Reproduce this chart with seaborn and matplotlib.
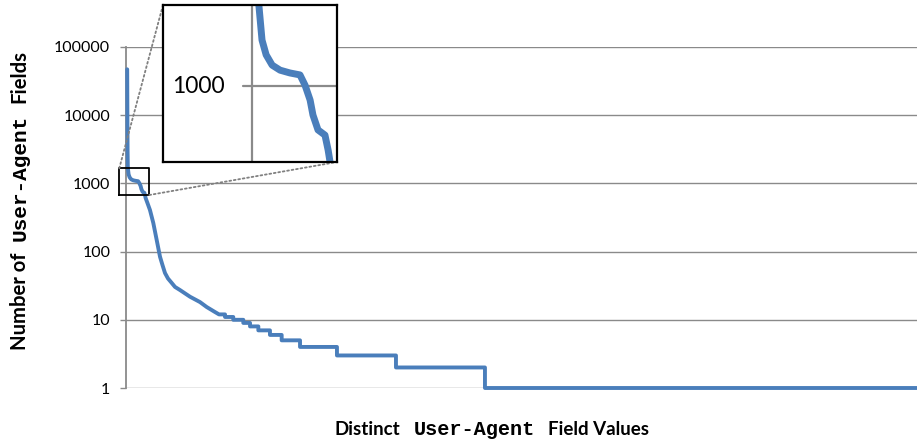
import numpy as np
import pandas as pd
import matplotlib
matplotlib.use("Agg")
import matplotlib.pyplot as plt
import seaborn as sns
from matplotlib.patches import ConnectionPatch
from matplotlib.ticker import NullLocator
from matplotlib.transforms import IdentityTransform

# ---------------- data ----------------
head_rank = [1.5, 1.8, 2.0, 2.3, 3.3, 4.6, 6.5, 9.0, 12.1, 15.3, 16.9, 18.5, 19.4,
             21.0, 23.2, 24.2, 24.8, 27.0, 30.3, 34.5, 38.8, 43.0, 46.1, 49.3, 53.1,
             57.8, 62.0, 68.3, 80.9, 93.5, 102.0, 112.5]
head_count = [47100, 8000, 3000, 1700, 1352, 1228, 1148, 1111, 1091, 1077, 1007, 914, 829,
              752, 727, 659, 610, 520, 407, 263, 148, 84, 63.6, 48.5, 40.3,
              34.7, 30.3, 27.3, 21.8, 18.2, 15.4, 13.0]
step_count = [12, 11, 10, 9, 8, 7, 6, 5, 4, 3, 2, 1]
step_start = [117.6, 125.2, 135.6, 148.3, 156.8, 167.3, 182.0, 196.8, 220.0, 266.7, 341.3, 453.8]
rank_max = 1000
y_ticks = [1, 10, 100, 1000, 10000, 100000]
y_tick_labels = ["1", "10", "100", "1000", "10000", "100000"]
inset_label = "1000"

# ------------- build table -------------
xs = list(head_rank)
ys = list(head_count)
ends = step_start[1:] + [rank_max]
for c, s, e in zip(step_count, step_start, ends):
    xs += [s, e]
    ys += [c, c]
df = pd.DataFrame({"rank": xs, "count": ys})

sns.set_theme(style="white")
plt.rcParams["font.family"] = ["Lato", "DejaVu Sans"]

W, H = 917, 440
fig = plt.figure(figsize=(W / 100, H / 100), dpi=100)
blue = "#4a7ebb"
gray = "#8a8a8a"

ax = fig.add_axes([126 / W, 52 / H, 791 / W, 341 / H])
sns.lineplot(data=df, x="rank", y="count", sort=False, estimator=None, ax=ax,
             color=blue, lw=2.8)
ax.lines[-1].set_clip_on(False)
ax.lines[-1].set_zorder(4)
ax.lines[-1].set_solid_joinstyle("round")
ax.set_yscale("log")
ax.set_ylim(1, 100000)
ax.set_xlim(0, rank_max)
ax.set_yticks(y_ticks)
ax.set_yticklabels(y_tick_labels)
ax.yaxis.set_minor_locator(NullLocator())
ax.set_xticks([])
ax.set_xlabel("")
ax.set_ylabel("")
ax.grid(axis="y", color=gray, lw=1.0)
ax.set_axisbelow(True)
for s in ["top", "right", "bottom"]:
    ax.spines[s].set_visible(False)
ax.spines["left"].set_color(gray)
ax.spines["left"].set_linewidth(1.3)
ax.tick_params(axis="y", length=4.3, width=1.0, color=gray, pad=7,
               labelsize=11.5, labelcolor="black", left=True)
for lab in ax.get_yticklabels():
    lab.set_fontfamily(["Lato", "DejaVu Sans"])

# zoom rectangle on main axes
rx0, rx1, ry0, ry1 = -8.5, 29.5, 676, 1665
ax.plot([rx0, rx1, rx1, rx0, rx0], [ry0, ry0, ry1, ry1, ry0], color="black",
        lw=1.3, clip_on=False, zorder=6)

# ------------- inset -------------
axins = fig.add_axes([163 / W, 1 - 162 / H, 174 / W, 157 / H], zorder=10)
axins.set_facecolor("white")
sns.lineplot(data=df, x="rank", y="count", sort=False, estimator=None, ax=axins,
             color=blue, lw=5.0)
axins.lines[-1].set_solid_joinstyle("round")
axins.set_yscale("log")
axins.set_ylim(610, 1700)
axins.set_xlim(-28, 27)
axins.set_xticks([])
axins.set_yticks([])
axins.set_yticks([], minor=True)
axins.set_xlabel("")
axins.set_ylabel("")
axins.axvline(0, color=gray, lw=1.6, zorder=1)
axins.axhline(1000, xmin=0.46, color=gray, lw=1.6, zorder=1)
axins.text(0.05, 1000, inset_label, transform=axins.get_yaxis_transform(),
           ha="left", va="center", fontsize=16.5, fontfamily=["Lato", "DejaVu Sans"],
           color="black")
for s in axins.spines.values():
    s.set_color("black")
    s.set_linewidth(1.6)

for xyA, xyB in [((rx0, ry1), (0, 1)), ((rx1, ry0), (1, 0))]:
    cp = ConnectionPatch(xyA=xyA, coordsA=ax.transData, xyB=xyB, coordsB=axins.transAxes,
                         linestyle=(0, (1, 1.5)), color="#808080", lw=1.3, zorder=5)
    fig.add_artist(cp)

# ------------- mixed-font axis labels -------------
fig.canvas.draw()
renderer = fig.canvas.get_renderer()


def sans(size):
    return dict(fontfamily=["Lato", "DejaVu Sans"], fontweight="bold", fontsize=size,
                color="black")


def mono(size):
    return dict(fontfamily=["Liberation Mono", "DejaVu Sans Mono"], fontweight="bold",
                fontsize=size, color="black")


def place_pieces(pieces, center, baseline, rotation, gap):
    texts, sizes = [], []
    for s, fp in pieces:
        t = fig.text(0, 0, s, rotation=rotation, rotation_mode="anchor", ha="left",
                     va="baseline", transform=IdentityTransform(), **fp)
        bb = t.get_window_extent(renderer)
        texts.append(t)
        sizes.append(bb.width if rotation == 0 else bb.height)
    total = sum(sizes) + gap * (len(pieces) - 1)
    pos = center - total / 2
    for t, w in zip(texts, sizes):
        if rotation == 0:
            t.set_position((pos, baseline))
        else:
            t.set_position((baseline, pos))
        pos += w + gap


place_pieces([("Distinct", sans(13.5)), ("User-Agent", mono(14.6)), ("Field Values", sans(13.5))],
             center=492, baseline=H - 435, rotation=0, gap=13)
place_pieces([("Number of", sans(14.6)), ("User-Agent", mono(15.2)), ("Fields", sans(14.6))],
             center=H - 200, baseline=25.5, rotation=90, gap=12)

fig.savefig("out.png", dpi=100)
